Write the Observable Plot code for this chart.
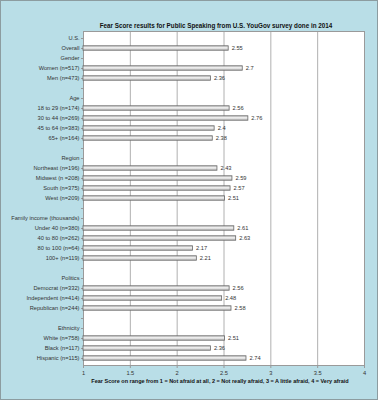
<!DOCTYPE html>
<html>
<head>
<meta charset="utf-8">
<script src="https://cdn.jsdelivr.net/npm/d3@7"></script>
<script src="https://cdn.jsdelivr.net/npm/@observablehq/plot@0.6"></script>
<style>
  html, body { margin: 0; padding: 0; background: #b9dee7; }
  #chart svg { display: block; }
</style>
</head>
<body>
<div id="chart"></div>
<script>
const title = "Fear Score results for Public Speaking from U.S. YouGov survey done in 2014";
const xLabel = "Fear Score on range from 1 = Not afraid at all, 2 = Not really afraid, 3 = A little afraid, 4 = Very afraid";

const labels = [
  "U.S.", "Overall",
  "Gender", "Women (n=517)", "Men (n=473)", "",
  "Age", "18 to 29 (n=174)", "30 to 44 (n=269)", "45 to 64 (n=383)", "65+ (n=164)", "",
  "Region", "Northeast (n=196)", "Midwest (n =208)", "South (n=375)", "West (n=209)", "",
  "Family income (thousands)", "Under 40 (n=380)", "40 to 80 (n=262)", "80 to 100 (n=64)", "100+ (n=119)", "",
  "Politics", "Democrat (n=332)", "Independent (n=414)", "Republican (n=244)", "",
  "Ethnicity", "White (n=758)", "Black (n=117)", "Hispanic (n=115)"
];
const values = [
  null, 2.55,
  null, 2.7, 2.36, null,
  null, 2.56, 2.76, 2.4, 2.38, null,
  null, 2.43, 2.59, 2.57, 2.51, null,
  null, 2.61, 2.63, 2.17, 2.21, null,
  null, 2.56, 2.48, 2.58, null,
  null, 2.51, 2.36, 2.74
];
const xTicks = [1, 1.5, 2, 2.5, 3, 3.5, 4];

const rows = labels.map((label, i) => ({i, label, value: values[i]}));
const bars = rows.filter(d => d.value != null);

const font = "'Liberation Sans', Arial, sans-serif";

const plot = Plot.plot({
  width: 378,
  height: 400,
  marginTop: 31,
  marginBottom: 35,
  marginLeft: 83,
  marginRight: 14,
  style: {background: "transparent", fontFamily: font, fontSize: "5.7px", color: "#333"},
  x: {domain: [1, 4], ticks: xTicks, tickFormat: d => String(d), label: null},
  y: {domain: rows.map(d => d.i), padding: 0, tickFormat: i => labels[i], label: null},
  marks: [
    Plot.frame({fill: "white", stroke: "none"}),
    Plot.gridX(xTicks, {stroke: "#b0b0b0", strokeOpacity: 1}),
    Plot.frame({stroke: "#9a9a9a"}),
    Plot.axisX({ticks: xTicks, tickSize: 3, tickPadding: 2, stroke: "#999", fill: "#333", tickFormat: d => String(d)}),
    Plot.axisY({tickSize: 2, tickPadding: 2, stroke: "#999", fill: "#333", tickFormat: i => labels[i]}),
    Plot.barX(bars, {y: "i", x1: 1, x2: "value", insetTop: 2.8, insetBottom: 2.8, fill: "url(#barGrad)", stroke: "#666", strokeWidth: 0.8}),
    Plot.text(bars, {y: "i", x: "value", text: d => String(d.value), dx: 3, textAnchor: "start", fill: "#333"}),
    Plot.text([title], {frameAnchor: "top", dx: -8, dy: -8, fontWeight: "bold", fontSize: 6.3, fill: "#111"}),
    Plot.text([xLabel], {frameAnchor: "bottom", dx: -4, dy: 17, fontWeight: "bold", fontSize: 5.5, fill: "#111"})
  ]
});

const svg = d3.select(plot);
const defs = svg.insert("defs", ":first-child");
const g = defs.append("linearGradient").attr("id", "barGrad").attr("x1", 0).attr("x2", 0).attr("y1", 0).attr("y2", 1);
g.append("stop").attr("offset", "0%").attr("stop-color", "#c8c8c8");
g.append("stop").attr("offset", "45%").attr("stop-color", "#f2f2f2");
g.append("stop").attr("offset", "100%").attr("stop-color", "#b8b8b8");
svg.append("rect").attr("x", 0.5).attr("y", 0.5).attr("width", 377).attr("height", 399)
  .attr("fill", "none").attr("stroke", "#8c9ca0").attr("stroke-width", 1);

document.getElementById("chart").appendChild(plot);
</script>
</body>
</html>
